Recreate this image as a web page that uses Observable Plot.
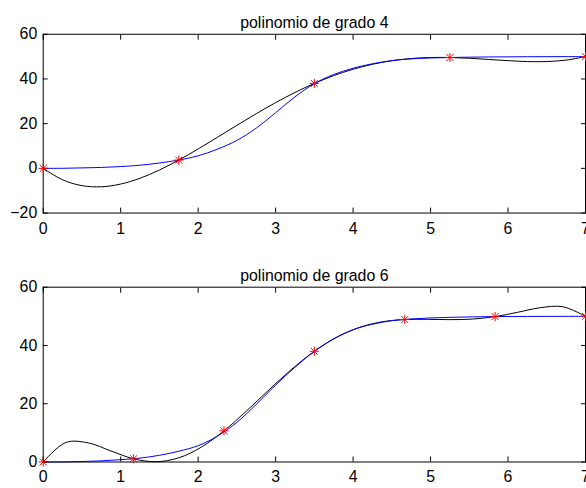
<!DOCTYPE html>
<html><head><meta charset="utf-8">
<script src="https://cdn.jsdelivr.net/npm/d3@7"></script>
<script src="https://cdn.jsdelivr.net/npm/@observablehq/plot@0.6"></script>
<style>
html,body{margin:0;padding:0;background:#fff;overflow:hidden;width:586px;height:488px}
#chart svg{display:block}
</style></head><body><div id="chart"></div>
<script>
// ---- data ----
const titles = ["polinomio de grado 4", "polinomio de grado 6"];
const xTicks = [0, 1, 2, 3, 4, 5, 6, 7];
const yTicksTop = [-20, 0, 20, 40, 60];
const yTicksBottom = [0, 20, 40, 60];

const xFine = [0,0.25,0.5,0.75,1,1.25,1.5,1.75,2,2.25,2.5,2.75,3,3.25,3.5,3.75,4,4.25,4.5,4.75,5,5.25,5.5,5.75,6,6.25,6.5,6.75,7];

// top panel: degree-4 interpolating polynomial (black), reference curve (blue), nodes (red)
const poly4Y = [0,-5.12,-7.74,-8.25,-7.03,-4.43,-0.75,3.70,8.67,13.92,19.25,24.46,29.40,33.95,38.00,41.48,44.34,46.57,48.16,49.15,49.60,49.60,49.27,48.73,48.18,47.79,47.79,48.44,50.00];
const blueTopY = [0,0.02,0.2,0.4,0.8,1.4,2.4,3.7,5.6,8.6,12.5,18.0,24.9,32.0,37.9,42.0,44.8,46.8,48.2,49.0,49.4,49.6,49.75,49.85,49.9,49.95,49.97,49.99,50];
const nodesTopX = [0, 1.75, 3.5, 5.25, 7];
const nodesTopY = [0, 3.7, 38, 49.6, 50];

// bottom panel: degree-6 interpolating polynomial (black), reference curve (blue), nodes (red)
const poly6X = [0,0.2917,0.5833,0.875,1.1667,1.4583,1.75,2.0417,2.3333,2.625,2.9167,3.2083,3.5,3.7917,4.0833,4.375,4.6667,4.9583,5.25,5.5417,5.8333,6.125,6.4167,6.7083,7];
const poly6Y = [0,6.70,6.55,3.77,1.10,0.10,1.43,5.11,10.70,17.53,24.83,31.86,38.00,42.84,46.20,48.12,48.90,48.97,48.86,49.06,49.90,51.39,52.96,53.29,50.00];
const blueBottomY = [0,0.02,0.15,0.4,0.8,1.35,2.3,3.7,5.6,8.9,13.6,19.8,26.4,32.5,38.0,42.3,45.4,47.3,48.5,49.1,49.45,49.65,49.8,49.9,49.95,49.97,49.98,49.99,50];
const nodesBottomX = [0, 1.1667, 2.3333, 3.5, 4.6667, 5.8333, 7];
const nodesBottomY = [0, 1.1, 10.7, 38, 48.9, 49.9, 50];

const zip = (xs, ys) => xs.map((x, i) => ({x, y: ys[i]}));

function panel({title, black, blue, nodes, yDomain, yTicks, height, marginTop, marginBottom, xPad}) {
  return Plot.plot({
    width: 590, height, marginLeft: 43, marginRight: 1, marginTop, marginBottom,
    style: {fontFamily: "'Liberation Sans', Arial, Helvetica, sans-serif", fontSize: "16px", color: "black", background: "white"},
    x: {domain: [0, 7]},
    y: {domain: yDomain},
    marks: [
      Plot.line(black, {x: "x", y: "y", stroke: "black", strokeWidth: 1, curve: "catmull-rom"}),
      Plot.line(blue, {x: "x", y: "y", stroke: "#0000ff", strokeWidth: 1, curve: "catmull-rom"}),
      Plot.frame({stroke: "black", strokeWidth: 1}),
      Plot.axisX({ticks: xTicks, anchor: "bottom", tickSize: -5, tickPadding: xPad, tickFormat: d3.format("d"), label: null}),
      Plot.axisX({ticks: xTicks, anchor: "top", tickSize: -5, tickFormat: () => "", label: null}),
      Plot.axisY({ticks: yTicks, anchor: "left", tickSize: -5, tickPadding: 11, label: null}),
      Plot.axisY({ticks: yTicks, anchor: "right", tickSize: -5, tickFormat: () => "", label: null}),
      Plot.dot(nodes, {x: "x", y: "y", symbol: "plus", r: 3.1, stroke: "red", fill: "none", strokeWidth: 1}),
      Plot.dot(nodes, {x: "x", y: "y", symbol: "times", r: 3.3, stroke: "red", fill: "none", strokeWidth: 1}),
      Plot.text([title], {text: d => d, frameAnchor: "top", dy: -18, fontSize: 16})
    ]
  });
}

const chart = document.getElementById("chart");
chart.append(panel({
  title: titles[0],
  black: zip(xFine, poly4Y), blue: zip(xFine, blueTopY), nodes: zip(nodesTopX, nodesTopY),
  yDomain: [-20, 60], yTicks: yTicksTop, height: 244, marginTop: 34, marginBottom: 30, xPad: 15
}));
chart.append(panel({
  title: titles[1],
  black: zip(poly6X, poly6Y), blue: zip(xFine, blueBottomY), nodes: zip(nodesBottomX, nodesBottomY),
  yDomain: [0, 60], yTicks: yTicksBottom, height: 244, marginTop: 45, marginBottom: 23, xPad: 14
}));
</script></body></html>
